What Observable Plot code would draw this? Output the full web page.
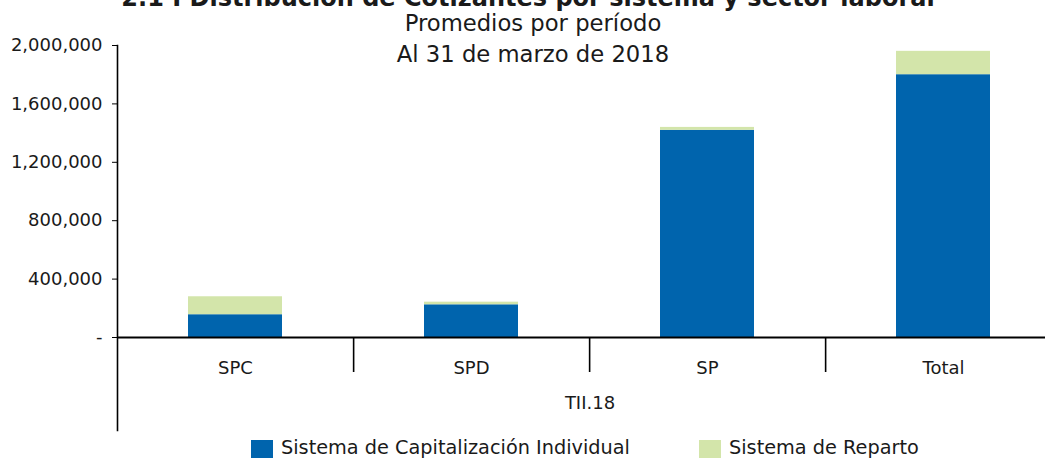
<!DOCTYPE html>
<html>
<head>
<meta charset="utf-8">
<script src="https://cdn.jsdelivr.net/npm/d3@7"></script>
<script src="https://cdn.jsdelivr.net/npm/@observablehq/plot@0.6"></script>
<style>
  body { margin: 0; background: #fff; }
  #wrap { position: relative; width: 1045px; height: 458px; overflow: hidden; font-family: "DejaVu Sans", sans-serif; color: #1a1a1a; }
  #title { position: absolute; top: -16px; left: 0; width: 1056px; text-align: center; font-weight: bold; font-size: 24px; line-height: 29px; white-space: nowrap; }
  .sub { position: absolute; left: 0; width: 1066px; text-align: center; font-size: 22.7px; line-height: 26px; white-space: nowrap; }
  #chart { position: absolute; top: 0; left: 0; }
  #legend { position: absolute; top: 437px; left: 0; width: 1045px; font-size: 19.3px; white-space: nowrap; }
  .li { position: absolute; top: 0; display: flex; align-items: flex-start; height: 22px; line-height: 22px; }
  .sw { width: 22px; height: 19px; margin-top: 3px; margin-right: 8px; }
</style>
</head>
<body>
<div id="wrap">
  <div id="title">2.1 I Distribución de Cotizantes por sistema y sector laboral</div>
  <div class="sub" style="top:10px">Promedios por período</div>
  <div class="sub" style="top:41px">Al 31 de marzo de 2018</div>
  <div id="chart"></div>
  <div id="legend"></div>
</div>
<script>
const categories = ["SPC", "SPD", "SP", "Total"];
const capitalizacion = [156000, 224000, 1419000, 1800000];
const reparto = [123000, 18000, 20000, 160000];
const seriesNames = ["Sistema de Capitalización Individual", "Sistema de Reparto"];
const seriesColors = ["#0064AD", "#D3E5AA"];
const yTicks = [0, 400000, 800000, 1200000, 1600000, 2000000];
const periodLabel = "TII.18";

const rows = [];
categories.forEach((c, i) => {
  rows.push({cat: c, serie: seriesNames[0], value: capitalizacion[i]});
  rows.push({cat: c, serie: seriesNames[1], value: reparto[i]});
});

const W = 1045, H = 432;
const mL = 117, mR = -17, mT = 45, mB = 2;
const step = (W - mR - mL) / categories.length;

const fmt = d3.format(",");
const chart = Plot.plot({
  width: W,
  height: H,
  marginLeft: mL,
  marginRight: mR,
  marginTop: mT,
  marginBottom: mB,
  style: {fontFamily: "DejaVu Sans, sans-serif", fontSize: "18px", color: "#1a1a1a", background: "transparent", overflow: "visible"},
  x: {domain: categories, paddingInner: 0.6, paddingOuter: 0.3, axis: null},
  y: {domain: [0, 2000000], range: [337, 45], axis: null},
  color: {domain: seriesNames, range: seriesColors},
  marks: [
    Plot.barY(rows, {x: "cat", y: "value", fill: "serie", order: seriesNames}),
    Plot.axisY({ticks: yTicks, tickFormat: d => d === 0 ? "-" : fmt(d), tickSize: 5, tickPadding: 10, fontSize: 18, label: null, stroke: "#000"}),
    Plot.frame({anchor: "left", stroke: "#000", strokeWidth: 1.6}),
    Plot.ruleY([0], {stroke: "#000", strokeWidth: 2}),
    Plot.ruleX(categories.slice(0, -1), {x: d => d, dx: step / 2, insetTop: 292, insetBottom: 58, stroke: "#000", strokeWidth: 1.6}),
    Plot.text(categories, {x: d => d, y: 0, dy: 31, fontSize: 18, fill: "#1a1a1a"}),
    Plot.text([periodLabel], {frameAnchor: "bottom", dy: -22, fontSize: 18, fill: "#1a1a1a"})
  ]
});
document.getElementById("chart").appendChild(chart);

const legend = document.getElementById("legend");
const lx = [251, 699];
seriesNames.forEach((s, i) => {
  const item = document.createElement("div");
  item.className = "li";
  item.style.left = lx[i] + "px";
  item.innerHTML = `<span class="sw" style="background:${seriesColors[i]}"></span><span>${s}</span>`;
  legend.appendChild(item);
});
</script>
</body>
</html>
